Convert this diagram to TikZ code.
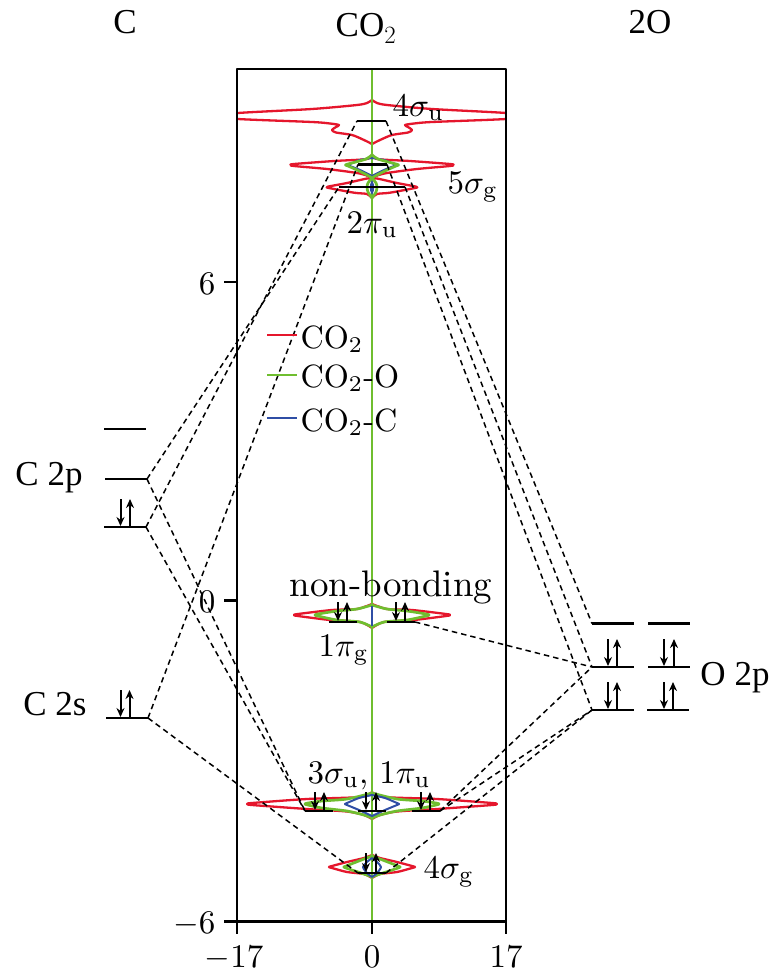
\documentclass[tikz,border=0pt]{standalone}
\usepackage{fontspec}
\usetikzlibrary{arrows.meta}
\newfontfamily\timesf{Liberation Serif}
\definecolor{dosred}{HTML}{E5162C}
\definecolor{dosgreen}{HTML}{6FBE2F}
\definecolor{dosblue}{HTML}{2F4EA5}
\newcommand\symcurve[2]{\foreach\sgn in {1,-1}{\draw[#1,shift={(372,0)},xscale=\sgn] plot[smooth,tension=.45] coordinates {#2};}}
\newcommand\lvl[3]{\coordinate (#1L) at (#2,#3); \coordinate (#1R) at ({#2+\lvlw},#3); \draw[level] (#1L) -- (#1R);}
\newcommand\pairh[4]{\draw[elec] (#1,#3-#4) -- (#1,#3-1);\draw[elec] (#2,#3) -- (#2,#3-#4);}
\tikzset{
 level/.style={line width=2.6pt,black},
 elec/.style={line width=2pt,-{Stealth[length=9pt,width=8pt]}},
 conn/.style={line width=1.5pt,dash pattern=on 5.5pt off 4pt},
 rc/.style={dosred,line width=2.3pt},
 gc/.style={dosgreen,line width=2.7pt},
 bc/.style={dosblue,line width=2pt},
 lab/.style={font=\normalsize,scale=3.3,inner sep=0pt},
 leg/.style={font=\normalsize,scale=3.22,inner sep=0pt,anchor=base west},
 tlab/.style={font=\timesf\fontsize{35}{38}\selectfont,inner sep=0pt},
 frameline/.style={line width=2.4pt,black}
}
\begin{document}
\begin{tikzpicture}[x=1pt,y=-1pt,line join=round]
\useasboundingbox (0,0) rectangle (784,975);
\fill[white] (0,0) rectangle (784,975);
% curves
\begin{scope}
\clip (237,69) rectangle (506,921);
\symcurve{rc}{(0,100) (5,103) (15,105) (60,109) (134,113) (146,116) (134,119) (60,122) (42,123.5) (33,125) (36,127) (40,130) (36,132.5) (20,135) (8,140) (0,144)}
\symcurve{rc}{(0,154) (5,159) (38,161) (78,164) (81,165) (78,166) (45,169) (15,173) (4,176) (1,179)}
\symcurve{rc}{(1,179) (5,178.5) (25,183) (43,186.4) (45,187.2) (43,188) (18,192.7) (5,194) (0,198)}
\symcurve{rc}{(0,792) (12,797) (65,799) (120,803) (124,804) (120,805) (65,809) (25,811.5) (8,815) (0,819)}
\symcurve{rc}{(0,604) (15,609) (40,610) (74,614) (78,615) (74,616) (42,620) (12,622) (0,628)}
\symcurve{rc}{(0,855) (8,858) (25,862) (40,866) (43,867) (40,868) (25,872) (8,874) (0,878)}
\end{scope}
\draw[gc] (372,69) -- (372,921);
\symcurve{bc}{(0,158) (12,160) (22,164) (24,165) (22,166) (12,170) (0,176)}
\symcurve{gc}{(0,155) (6,159) (15,161.7) (24,164) (26.5,165) (24,166) (15,170) (5,175) (0,178)}
\symcurve{gc}{(0,178) (4,183) (5,187) (4,192) (0,198)}
\fill[dosblue] (372,180) .. controls (375,185) and (375,190) .. (372,195) .. controls (369,190) and (369,185) .. (372,180) -- cycle;
\symcurve{gc}{(0,793) (25,799) (50,801) (64,803) (67,804) (64,805) (50,808) (25,811) (8,815) (0,818)}
\symcurve{bc}{(0,795) (13,798) (25,803) (27,804) (25,805) (13,810) (0,816)}
\symcurve{gc}{(0,605) (15,609) (35,611) (54,614) (57,615) (54,616) (35,620) (12,622) (0,627)}
\draw[dosblue,line width=2pt] (372,606) -- (372,626);
\symcurve{gc}{(0,856) (8,859) (26,866) (28,867) (26,868) (8,874) (0,877)}
\symcurve{bc}{(0,858) (5,862) (9,867) (5,873) (0,877)}
% frame
\draw[frameline] (237,69) rectangle (506,921.5);
\foreach \nm/\yy in {a/282,b/600.5,c/921.5} \draw[frameline] (224,\yy) -- (237,\yy);
\foreach \nm/\xx in {a/237,b/372,c/506} \draw[frameline] (\xx,921.5) -- (\xx,934);
% levels
\def\lvlw{42}
\lvl{cpa}{104}{429}\lvl{cpb}{105}{479}\lvl{cpc}{104}{527}\lvl{cs}{106}{718}
\lvl{oa}{592}{623.5}\lvl{ob}{592}{667}\lvl{oc}{592}{710}
\lvl{od}{648}{623.5}\lvl{oe}{648}{667}\lvl{of}{647}{710}
\def\lvlw{29}
\lvl{su}{357}{121}\lvl{sg}{358}{164.5}
\def\lvlw{66}
\lvl{pu}{339}{187}
\def\lvlw{28}
\lvl{ta}{305}{811}\lvl{tb}{358}{811}\lvl{tc}{412}{811}
\lvl{pa}{329}{622}\lvl{pb}{387}{622}
\lvl{fg}{358}{873}
% connectors
\draw[conn] (cpbR) -- (puL);
\draw[conn] (cpcR) -- (suL);
\draw[conn] (csR) -- (sgL);
\draw[conn] (cpbR) -- (taL);
\draw[conn] (cpcR) -- (taL);
\draw[conn] (csR) -- (fgL);
\draw[conn] (suR) -- (oaL);
\draw[conn] (puR) -- (obL);
\draw[conn] (sgR) -- (ocL);
\draw[conn] (pbR) -- (obL);
\draw[conn] (tcR) -- (obL);
\draw[conn] (tcR) -- (ocL);
\draw[conn] (fgR) -- (ocL);
% electrons
\pairh{120.5}{130}{527}{28}\pairh{120.5}{129.5}{718}{28}
\pairh{608}{617}{667}{28}\pairh{664}{674}{667}{28}
\pairh{608}{617}{710}{28}\pairh{664}{673}{710}{28}
\pairh{315}{324}{811}{19}\pairh{366}{376}{811}{19}\pairh{421}{430}{811}{19}
\pairh{338}{347}{622}{20}\pairh{396}{405}{622}{20}
\pairh{366}{376}{873}{20}
% legend
\coordinate (lga) at (267,335);\coordinate (lgb) at (297,335);
\coordinate (lgc) at (267,375);\coordinate (lgd) at (297,375);
\coordinate (lge) at (267,418);\coordinate (lgf) at (297,418);
\draw[rc] (lga) -- (lgb);\draw[gc] (lgc) -- (lgd);\draw[bc] (lge) -- (lgf);
\node[leg] (l1) at (300,348) {CO$_2$};
\node[leg] (l2) at (300,387) {CO$_2$-O};
\node[leg] (l3) at (300,431) {CO$_2$-C};
% titles
\node[tlab,anchor=base] (t1) at (125,33) {C};
\node[tlab,anchor=base] (t2) at (366,36) {CO$_2$};
\node[tlab,anchor=base] (t3) at (650,33) {2O};
\node[tlab,anchor=base] (t4) at (49,485) {C 2p};
\node[tlab,anchor=base] (t5) at (55,715) {C 2s};
\node[tlab,anchor=base] (t6) at (735,685) {O 2p};
% MO labels
\node[lab,anchor=base west] (m1) at (392,116) {$4\sigma_{\mathrm{u}}$};
\node[lab,anchor=base west] (m2) at (447,193) {$5\sigma_{\mathrm{g}}$};
\node[lab,anchor=base west] (m3) at (346,233) {$2\pi_{\mathrm{u}}$};
\node[lab,anchor=base,scale=1.12] (m4) at (391,596) {non-bonding};
\node[lab,anchor=base west] (m5) at (318,656) {$1\pi_{\mathrm{g}}$};
\node[lab,anchor=base west] (m6) at (307,783) {$3\sigma_{\mathrm{u}}$, $1\pi_{\mathrm{u}}$};
\node[lab,anchor=base west] (m7) at (423,878) {$4\sigma_{\mathrm{g}}$};
% ticks
\node[lab,anchor=base] (x1) at (234,967) {$-17$};
\node[lab,anchor=base] (x2) at (372,967) {$0$};
\node[lab,anchor=base] (x3) at (506,967) {$17$};
\node[lab,anchor=base east] (y1) at (216,294) {$6$};
\node[lab,anchor=base east] (y2) at (216,612) {$0$};
\node[lab,anchor=base east] (y3) at (216,933) {$-6$};
\end{tikzpicture}
\end{document}
